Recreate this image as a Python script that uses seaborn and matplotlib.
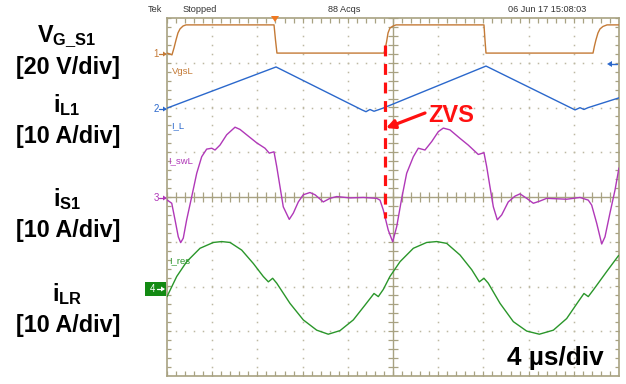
import numpy as np
import pandas as pd
import matplotlib
matplotlib.use("Agg")
import matplotlib.pyplot as plt
from matplotlib.lines import Line2D
from matplotlib.patches import Rectangle, Polygon
import seaborn as sns

# ---------------- scope traces (time in us, 4 us/div) ----------------
# CH1: gate voltage V_G_S1 [V], 20 V/div
t_vgs = [0.00, 0.27, 0.44, 0.62, 0.80, 0.97, 1.15, 1.42, 1.68, 9.47, 9.60, 9.73,
         19.20, 19.29, 19.43, 19.56, 19.73, 20.00, 20.27, 28.05, 28.14, 28.23,
         37.70, 37.83, 37.96, 38.14, 38.32, 38.58, 38.94, 40.00]
v_vgs = [0.4, 0.0, -0.4, 2.7, 6.3, 9.4, 11.2, 12.5, 13.0, 13.0, 6.3, 0.4,
         0.4, 1.8, 5.4, 9.4, 11.6, 12.5, 13.0, 13.0, 6.3, 0.4,
         0.4, 3.6, 6.3, 9.4, 11.2, 12.3, 13.0, 13.0]

# CH2: inductor current i_L1 [A], 10 A/div
t_il = [0.00, 9.65, 17.26, 17.61, 17.96, 18.32, 18.67, 19.12, 28.23,
        36.11, 36.55, 36.90, 37.26, 40.00]
i_il = [0.2, 9.4, -0.2, -0.6, -0.1, -0.5, -0.2, 0.2, 9.6,
        -0.2, 0.3, -0.1, 0.3, 2.5]

# CH3: switch current i_S1 [A], 10 A/div
t_is = [0.03, 0.42, 0.71, 1.00, 1.21, 1.44, 1.74, 2.19, 2.63, 3.07, 3.51, 3.96,
        4.25, 4.69, 5.28, 6.02, 6.46, 7.05, 7.94, 8.67, 9.05, 9.47, 9.71, 10.00,
        10.29, 10.82, 11.18, 11.62, 12.06, 12.65, 13.10, 13.83, 14.42, 15.02,
        16.19, 17.37, 18.56, 18.85, 19.14, 19.58, 19.97, 20.33, 20.77, 21.21,
        21.80, 22.24, 22.83, 23.43, 24.01, 24.45, 25.04, 25.93, 26.66, 27.55,
        28.05, 28.29, 28.58, 28.88, 29.23, 29.62, 30.20, 30.80, 31.24, 31.83,
        32.42, 33.01, 33.60, 35.37, 36.55, 37.28, 37.58, 38.03, 38.47, 38.76,
        39.20, 39.65, 39.94, 40.00]
i_is = [-0.7, -1.4, -5.1, -8.9, -10.2, -9.2, -5.1, 0.1, 5.3, 9.0, 10.7, 10.9,
        10.5, 11.6, 13.9, 15.6, 15.1, 13.9, 12.1, 10.9, 9.8, 10.1, 6.8, 2.3,
        -2.2, -5.0, -3.6, -1.1, 0.5, 1.0, 0.5, -1.1, -0.3, 0.1,
        -0.2, -0.1, -0.3, -0.7, -2.9, -7.4, -10.0, -6.6, -0.3, 5.3,
        9.0, 10.9, 10.5, 12.4, 14.6, 15.4, 15.0, 13.1, 11.6, 9.5,
        9.9, 6.8, 2.3, -2.2, -5.1, -4.0, -1.1, 0.2, 0.7, -0.3,
        -1.4, -0.9, -0.3, -0.5, -0.1, -0.7, -1.8, -5.9, -10.5, -8.9,
        -3.6, 1.6, 5.7, 6.5]

# CH4: resonant current i_LR [A], 10 A/div
t_ir = [0.00, 0.86, 1.74, 2.92, 4.10, 4.84, 5.58, 6.61, 7.64, 8.52, 8.97, 9.35,
        9.71, 10.88, 12.06, 13.25, 14.27, 15.31, 16.49, 17.52, 18.32, 18.70,
        19.14, 19.73, 20.62, 21.80, 22.98, 23.87, 24.75, 25.93, 26.97, 27.64,
        28.05, 28.43, 29.47, 30.65, 31.83, 32.95, 34.19, 35.37, 36.40, 36.90,
        37.28, 37.73, 38.91, 39.94, 40.00]
i_ir = [-1.7, 2.8, 6.1, 9.1, 10.4, 10.6, 10.4, 8.7, 5.7, 2.8, 1.6, 2.4,
        1.3, -3.2, -6.9, -9.2, -10.1, -9.3, -6.9, -3.6, -1.0, -1.7,
        -0.1, 2.8, 6.1, 9.1, 10.4, 10.6, 10.2, 7.6, 4.3, 1.6,
        2.4, 1.3, -3.2, -7.3, -9.4, -10.1, -9.2, -6.6, -2.8, -1.0,
        -1.7, -0.2, 3.9, 7.4, 7.5]

US_PER_DIV = 4.0
ZVS_TIME = 19.3  # us, turn-on instant marked on the plot

# screen placement of each channel: (ground offset in div, units per div, colour)
channels = [
    (t_vgs, v_vgs, 3.196, 20.0, "#c47a36"),
    (t_il, i_il, 1.966, 10.0, "#2b68cc"),
    (t_is, i_is, 0.0, 10.0, "#b038b8"),
    (t_ir, i_ir, -2.056, 10.0, "#2a962a"),
]

# ---------------- figure ----------------
W, H = 626, 384
sns.set_style("white")
plt.rcParams["font.family"] = ["Liberation Sans", "DejaVu Sans"]
plt.rcParams["mathtext.fontset"] = "custom"
plt.rcParams["mathtext.bf"] = "Liberation Sans:bold"
plt.rcParams["mathtext.rm"] = "Liberation Sans"
plt.rcParams["mathtext.it"] = "Liberation Sans:italic"

fig = plt.figure(figsize=(W / 100, H / 100), dpi=100)
fig.patch.set_facecolor("white")

L, R, T, B = 167, 619, 18, 376
ax = fig.add_axes([L / W, 1 - B / H, (R - L) / W, (B - T) / H])
ax.set_xlim(0, 10)
ax.set_ylim(-4, 4)
ax.set_facecolor("white")

frame_c = "#a8a282"
dot_c = "#bdb8a2"

def px2div(px, py):
    return (px - L) / (R - L) * 10, 4 - (py - T) / (B - T) * 8

def fig_xy(px, py):
    return px / W, 1 - py / H

# dotted graticule
steps_y = np.arange(-4, 4.001, 0.2)
steps_x = np.arange(0, 10.001, 0.2)
for xd in [1, 2, 3, 4, 6, 7, 8, 9]:
    ax.plot(np.full_like(steps_y, xd), steps_y, ls="none", marker="s", ms=1.1,
            mew=0, color=dot_c, zorder=1)
for yd in [-3, -2, -1, 1, 2, 3]:
    ax.plot(steps_x, np.full_like(steps_x, yd), ls="none", marker="s", ms=1.1,
            mew=0, color=dot_c, zorder=1)

# centre cross with minor ticks
ax.axhline(0, color=frame_c, lw=1.0, zorder=1)
ax.axvline(5, color=frame_c, lw=1.0, zorder=1)
ax.vlines(steps_x, -0.11, 0.11, color=frame_c, lw=0.9, zorder=1)
ax.hlines(steps_y, 5 - 0.11, 5 + 0.11, color=frame_c, lw=0.9, zorder=1)
# border ticks
ax.vlines(steps_x, 4 - 0.12, 4, color=frame_c, lw=0.9, zorder=1)
ax.vlines(steps_x, -4, -4 + 0.12, color=frame_c, lw=0.9, zorder=1)
ax.hlines(steps_y, 0, 0.09, color=frame_c, lw=0.9, zorder=1)
ax.hlines(steps_y, 10 - 0.09, 10, color=frame_c, lw=0.9, zorder=1)

for s in ax.spines.values():
    s.set_color(frame_c)
    s.set_linewidth(1.2)
ax.set_xticks([])
ax.set_yticks([])

# traces
for t, v, off, scale, col in channels:
    df = pd.DataFrame({"x": np.asarray(t) / US_PER_DIV,
                       "y": off + np.asarray(v) / scale})
    sns.lineplot(data=df, x="x", y="y", ax=ax, color=col, lw=1.0,
                 estimator=None, sort=False, zorder=3)
ax.set_xlabel("")
ax.set_ylabel("")

# trace names
name_kw = dict(fontsize=6.8, va="center", ha="left")
fig.text(*fig_xy(172, 71), "VgsL", color="#c47a36", **name_kw)
fig.text(*fig_xy(171, 126), "I_L", color="#2b68cc", **name_kw)
fig.text(*fig_xy(168, 161), "I_swL", color="#b038b8", **name_kw)
fig.text(*fig_xy(169, 261), "I_res", color="#2a962a", **name_kw)

# channel ground markers
def ground_marker(num, py, col):
    fig.text(*fig_xy(156, py), num, color=col, fontsize=7, ha="center", va="center")
    fig.add_artist(Line2D([159 / W, 165 / W], [1 - py / H] * 2, color=col, lw=0.9))
    fig.add_artist(Polygon([fig_xy(163, py - 2.5), fig_xy(167, py), fig_xy(163, py + 2.5)],
                           closed=True, color=col, lw=0))

ground_marker("1", 54, "#c47a36")
ground_marker("2", 109, "#2b68cc")
ground_marker("3", 198, "#b038b8")
fig.add_artist(Rectangle(fig_xy(145, 296), 21 / W, 14 / H, color="#138a13", lw=0))
fig.text(*fig_xy(153, 289), "4", color="white", fontsize=7, ha="center", va="center")
fig.add_artist(Line2D([157 / W, 163 / W], [1 - 289 / H] * 2, color="white", lw=0.9))
fig.add_artist(Polygon([fig_xy(161, 286.5), fig_xy(165, 289), fig_xy(161, 291.5)],
                       closed=True, color="white", lw=0))

# trigger level arrow (right) and trigger position marker (top)
fig.add_artist(Line2D([609 / W, 617 / W], [1 - 64 / H] * 2, color="#2b68cc", lw=1.0))
fig.add_artist(Polygon([fig_xy(612, 61), fig_xy(607, 64), fig_xy(612, 67)],
                       closed=True, color="#2b68cc", lw=0))
fig.add_artist(Polygon([fig_xy(271, 16), fig_xy(279, 16), fig_xy(275, 22)],
                       closed=True, color="#f07820", lw=0, zorder=5))

# status line
stat_kw = dict(fontsize=6.6, color="#333333", va="center", ha="left")
fig.text(*fig_xy(148, 10), "Tek", **stat_kw)
fig.text(*fig_xy(183, 10), "Stopped", **stat_kw)
fig.text(*fig_xy(328, 10), "88 Acqs", **stat_kw)
fig.text(*fig_xy(508, 10), "06 Jun 17 15:08:03", **stat_kw)

# ZVS marker
zx = ZVS_TIME / US_PER_DIV
_, y_top = px2div(0, 45)
_, y_bot = px2div(0, 218)
ax.plot([zx, zx], [y_top, y_bot], color="#ff1010", lw=2.3,
        ls=(0, (3.4, 2.4)), zorder=6, solid_capstyle="butt")
ax.annotate("", xy=px2div(386, 128), xytext=px2div(425, 113),
            arrowprops=dict(arrowstyle="-|>", color="#ff1010", lw=2.3,
                            mutation_scale=13, shrinkA=0, shrinkB=0), zorder=7)
fig.text(*fig_xy(428, 121.5), "ZVS", color="#ff1010", fontsize=17,
         fontweight="bold", ha="left", va="baseline")

# time base
fig.text(*fig_xy(604, 365), "4 µs/div", color="black", fontsize=18.8,
         fontweight="bold", ha="right", va="baseline")

# left channel captions
cap_kw = dict(fontsize=16.8, color="black", ha="center", va="baseline",
              fontweight="bold")
fig.text(*fig_xy(67, 42), r"$\mathbf{V}_{\mathbf{G\_S1}}$", **cap_kw)
fig.text(*fig_xy(68, 74), "[20 V/div]", **cap_kw)
fig.text(*fig_xy(67, 112), r"$\mathbf{i}_{\mathbf{L1}}$", **cap_kw)
fig.text(*fig_xy(68, 143), "[10 A/div]", **cap_kw)
fig.text(*fig_xy(67, 206), r"$\mathbf{i}_{\mathbf{S1}}$", **cap_kw)
fig.text(*fig_xy(68, 237), "[10 A/div]", **cap_kw)
fig.text(*fig_xy(67, 301), r"$\mathbf{i}_{\mathbf{LR}}$", **cap_kw)
fig.text(*fig_xy(68, 332), "[10 A/div]", **cap_kw)

fig.savefig("out.png", dpi=100, facecolor="white")
